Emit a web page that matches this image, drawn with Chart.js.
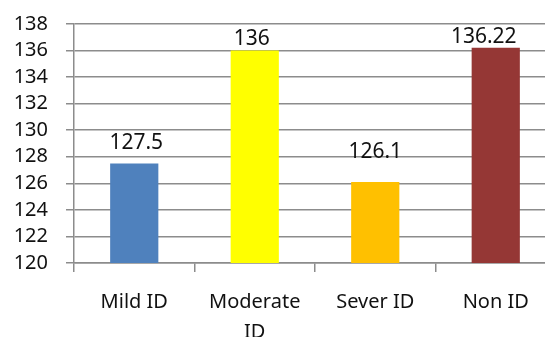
<!DOCTYPE html>
<html>
<head>
<meta charset="utf-8">
<script src="https://cdn.jsdelivr.net/npm/chart.js@4/dist/chart.umd.min.js"></script>
<style>
  html, body { margin: 0; padding: 0; background: #fff; overflow: hidden; }
  #wrap { position: relative; width: 556px; height: 337px; }
</style>
</head>
<body>
<div id="wrap"><canvas id="c"></canvas></div>
<script>
// Group labels, mean values and bar colours
const categories = [['Mild ID'], ['Moderate', 'ID'], ['Sever ID'], ['Non ID']];
const values = [127.5, 136, 126.1, 136.22];
const valueText = ['127.5', '136', '126.1', '136.22'];
const barColors = ['#4F81BD', '#FFFF00', '#FFC000', '#953735'];
const yTicks = [120, 122, 124, 126, 128, 130, 132, 134, 136, 138];

const gridGray = '#8c8c8c';
const textColor = '#111111';

// Value labels above each bar (small per-label nudges for placement)
const valueLabels = {
  id: 'valueLabels',
  afterDatasetsDraw(chart, args, opts) {
    const ctx = chart.ctx;
    const meta = chart.getDatasetMeta(0);
    ctx.save();
    ctx.font = opts.font;
    ctx.fillStyle = opts.color;
    ctx.textAlign = 'center';
    ctx.textBaseline = 'alphabetic';
    meta.data.forEach((bar, i) => {
      const dx = opts.dx[i] || 0;
      const gap = opts.gap[i] || 0;
      ctx.fillText(valueText[i], bar.x + dx, bar.y - gap);
    });
    ctx.restore();
  }
};

new Chart(document.getElementById('c'), {
  type: 'bar',
  data: {
    labels: categories,
    datasets: [{
      data: values,
      backgroundColor: barColors,
      borderWidth: 0,
      barPercentage: 0.4,
      categoryPercentage: 1.0
    }]
  },
  options: {
    responsive: true,
    maintainAspectRatio: false,
    animation: false,
    events: [],
    layout: { padding: { top: 24, left: 0, right: 0, bottom: 0 } },
    plugins: {
      legend: { display: false },
      tooltip: { enabled: false },
      valueLabels: {
        font: '21px "Noto Sans"',
        color: textColor,
        dx: [2, -3, 0, -12],
        gap: [14, 6, 24, 5]
      }
    },
    scales: {
      x: {
        grid: {
          display: true,
          drawOnChartArea: false,
          drawTicks: true,
          tickLength: 9,
          color: gridGray,
          lineWidth: 1.5,
          offset: true
        },
        border: { display: true, color: gridGray, width: 1.5 },
        ticks: {
          color: textColor,
          font: { family: 'Noto Sans', size: 20, lineHeight: 1.5 },
          padding: 15,
          maxRotation: 0,
          autoSkip: false
        },
        afterFit(scale) {
          scale.height = 74;
          scale.paddingLeft = 0;
          scale.paddingRight = 0;
        }
      },
      y: {
        min: 120,
        max: 138,
        afterBuildTicks(scale) { scale.ticks = yTicks.map(v => ({ value: v })); },
        grid: {
          color: gridGray,
          lineWidth: 1.5,
          drawTicks: true,
          tickLength: 8
        },
        border: { display: true, color: gridGray, width: 1.5 },
        ticks: {
          color: textColor,
          font: { family: 'Noto Sans', size: 20 },
          padding: 18,
          autoSkip: false
        },
        afterFit(scale) {
          scale.width = 74;
          scale.paddingTop = 0;
          scale.paddingBottom = 0;
        }
      }
    }
  },
  plugins: [valueLabels]
});
</script>
</body>
</html>
